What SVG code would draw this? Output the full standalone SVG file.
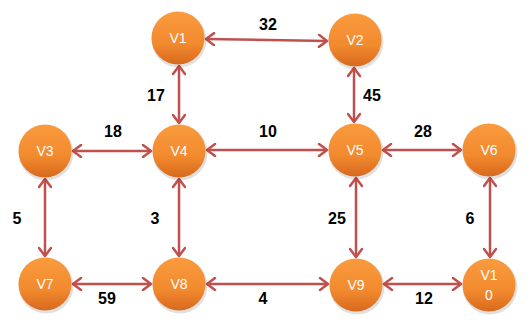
<svg xmlns="http://www.w3.org/2000/svg" width="532" height="329" viewBox="0 0 532 329">
<style>
.node{fill:url(#og);}
.sh{fill:#000;opacity:0.12;}
.nt{font-family:"Liberation Sans",Arial,sans-serif;font-size:14px;fill:#fff;text-anchor:middle;}
.el{stroke:#C0504D;stroke-width:2.5;fill:none;marker-start:url(#ah);marker-end:url(#ah);}
.lb{font-family:"Liberation Sans",Arial,sans-serif;font-size:16px;font-weight:bold;fill:#000;text-anchor:middle;}
</style>
<defs>
<linearGradient id="og" x1="0" y1="0" x2="0" y2="1">
<stop offset="0" stop-color="#FA9B3E"/>
<stop offset="0.6" stop-color="#F28A2E"/>
<stop offset="1" stop-color="#D8691E"/>
</linearGradient>
<marker id="ah" viewBox="-10 -7 12 14" markerWidth="12" markerHeight="14" refX="0" refY="0" orient="auto-start-reverse" markerUnits="userSpaceOnUse">
<path d="M-8,-6 L0,0 L-8,6" fill="none" stroke="#C0504D" stroke-width="2.5" stroke-linecap="round" stroke-linejoin="round"/>
</marker>
</defs>
<g id="connectors">
<line class="el" x1="206" y1="39" x2="327" y2="41"/>
<line class="el" x1="73" y1="151" x2="151" y2="151"/>
<line class="el" x1="207" y1="150" x2="327" y2="150"/>
<line class="el" x1="383" y1="150" x2="461" y2="150"/>
<line class="el" x1="73" y1="284" x2="151" y2="284"/>
<line class="el" x1="207" y1="284" x2="328" y2="284"/>
<line class="el" x1="384" y1="284" x2="461" y2="284"/>
<line class="el" x1="179" y1="66" x2="179" y2="123"/>
<line class="el" x1="354" y1="68" x2="354" y2="122"/>
<line class="el" x1="45" y1="179" x2="45" y2="256"/>
<line class="el" x1="179" y1="179" x2="179" y2="256"/>
<line class="el" x1="356" y1="178" x2="356" y2="257"/>
<line class="el" x1="490" y1="178" x2="490" y2="257"/>
</g>
<g id="labels">
<text class="lb" x="268" y="30">32</text>
<text class="lb" x="156" y="101">17</text>
<text class="lb" x="372" y="101">45</text>
<text class="lb" x="113" y="137">18</text>
<text class="lb" x="268" y="137">10</text>
<text class="lb" x="423" y="137">28</text>
<text class="lb" x="17" y="224">5</text>
<text class="lb" x="155" y="224">3</text>
<text class="lb" x="337" y="224">25</text>
<text class="lb" x="470" y="224">6</text>
<text class="lb" x="107" y="304">59</text>
<text class="lb" x="263" y="304">4</text>
<text class="lb" x="424" y="304">12</text>
</g>
<g id="V1"><circle class="sh" cx="179" cy="40" r="27.5"/><circle class="node" cx="178" cy="38" r="26.5"/><text class="nt" x="178" y="43">V1</text></g>
<g id="V2"><circle class="sh" cx="356" cy="42" r="27.5"/><circle class="node" cx="355" cy="40" r="26.5"/><text class="nt" x="355" y="45">V2</text></g>
<g id="V3"><circle class="sh" cx="46" cy="153" r="27.5"/><circle class="node" cx="45" cy="151" r="26.5"/><text class="nt" x="45" y="156">V3</text></g>
<g id="V4"><circle class="sh" cx="180" cy="153" r="27.5"/><circle class="node" cx="179" cy="151" r="26.5"/><text class="nt" x="179" y="156">V4</text></g>
<g id="V5"><circle class="sh" cx="356" cy="152" r="27.5"/><circle class="node" cx="355" cy="150" r="26.5"/><text class="nt" x="355" y="155">V5</text></g>
<g id="V6"><circle class="sh" cx="490" cy="152" r="27.5"/><circle class="node" cx="489" cy="150" r="26.5"/><text class="nt" x="489" y="155">V6</text></g>
<g id="V7"><circle class="sh" cx="46" cy="286" r="27.5"/><circle class="node" cx="45" cy="284" r="26.5"/><text class="nt" x="45" y="289">V7</text></g>
<g id="V8"><circle class="sh" cx="180" cy="286" r="27.5"/><circle class="node" cx="179" cy="284" r="26.5"/><text class="nt" x="179" y="289">V8</text></g>
<g id="V9"><circle class="sh" cx="357" cy="287" r="27.5"/><circle class="node" cx="356" cy="285" r="26.5"/><text class="nt" x="356" y="290">V9</text></g>
<g id="V10"><circle class="sh" cx="490" cy="287" r="27.5"/><circle class="node" cx="489" cy="285" r="26.5"/><text class="nt" x="489" y="280">V1</text><text class="nt" x="489" y="300">0</text></g>
</svg>
